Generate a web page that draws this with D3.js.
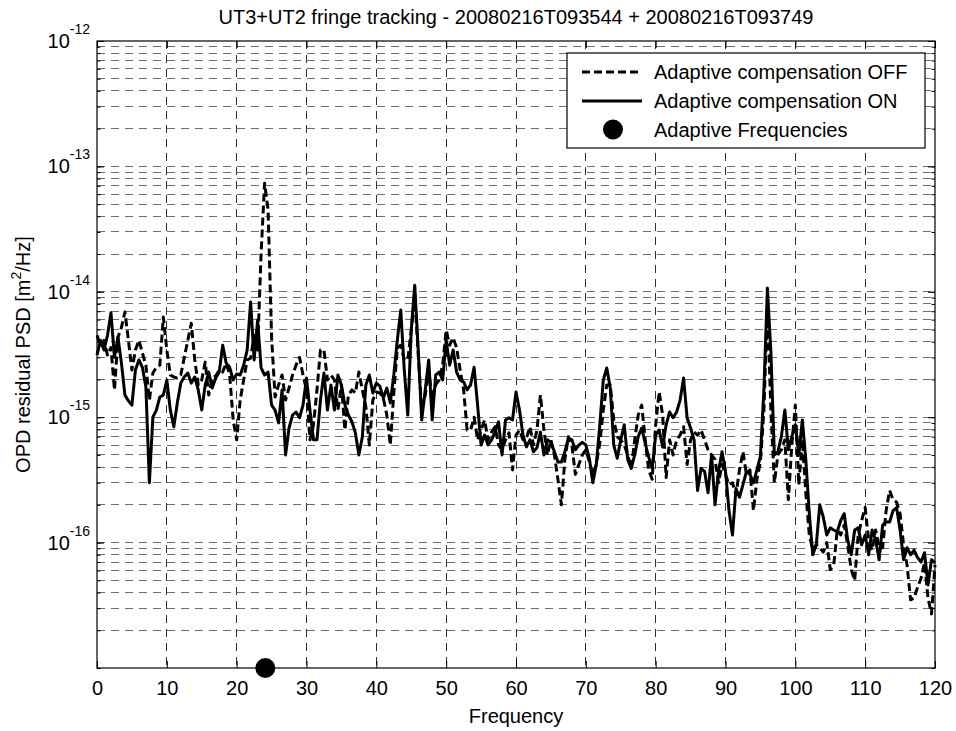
<!DOCTYPE html>
<html>
<head>
<meta charset="utf-8">
<script src="https://cdn.jsdelivr.net/npm/d3@7"></script>
<style>
  body { margin: 0; background: #fff; }
  svg text { font-family: "Liberation Sans", Arial, sans-serif; fill: #000; }
</style>
</head>
<body>
<svg id="mount" width="956" height="731"></svg>
<script>
// Frequency bins (Hz)
var freqs = [
  0, 0.5, 1, 1.5, 2, 2.5, 3, 3.5, 4, 4.5,
  5, 5.5, 6, 6.5, 7, 7.5, 8, 8.5, 9, 9.5,
  10, 10.5, 11, 11.5, 12, 12.5, 13, 13.5, 14, 14.5,
  15, 15.5, 16, 16.5, 17, 17.5, 18, 18.5, 19, 19.5,
  20, 20.5, 21, 21.5, 22, 22.5, 23, 23.5, 24, 24.5,
  25, 25.5, 26, 26.5, 27, 27.5, 28, 28.5, 29, 29.5,
  30, 30.5, 31, 31.5, 32, 32.5, 33, 33.5, 34, 34.5,
  35, 35.5, 36, 36.5, 37, 37.5, 38, 38.5, 39, 39.5,
  40, 40.5, 41, 41.5, 42, 42.5, 43, 43.5, 44, 44.5,
  45, 45.5, 46, 46.5, 47, 47.5, 48, 48.5, 49, 49.5,
  50, 50.5, 51, 51.5, 52, 52.5, 53, 53.5, 54, 54.5,
  55, 55.5, 56, 56.5, 57, 57.5, 58, 58.5, 59, 59.5,
  60, 60.5, 61, 61.5, 62, 62.5, 63, 63.5, 64, 64.5,
  65, 65.5, 66, 66.5, 67, 67.5, 68, 68.5, 69, 69.5,
  70, 70.5, 71, 71.5, 72, 72.5, 73, 73.5, 74, 74.5,
  75, 75.5, 76, 76.5, 77, 77.5, 78, 78.5, 79, 79.5,
  80, 80.5, 81, 81.5, 82, 82.5, 83, 83.5, 84, 84.5,
  85, 85.5, 86, 86.5, 87, 87.5, 88, 88.5, 89, 89.5,
  90, 90.5, 91, 91.5, 92, 92.5, 93, 93.5, 94, 94.5,
  95, 95.5, 96, 96.5, 97, 97.5, 98, 98.5, 99, 99.5,
  100, 100.5, 101, 101.5, 102, 102.5, 103, 103.5, 104, 104.5,
  105, 105.5, 106, 106.5, 107, 107.5, 108, 108.5, 109, 109.5,
  110, 110.5, 111, 111.5, 112, 112.5, 113, 113.5, 114, 114.5,
  115, 115.5, 116, 116.5, 117, 117.5, 118, 118.5, 119, 119.5,
  120
];

// Residual PSD, in units of 1e-15 m^2/Hz
var psdUnit = 1e-15;

var psdOff = [
  4.5, 3.75, 4.1, 3.13, 3.6, 1.65, 4.35, 5.2, 6.9, 4.1,
  2.38, 3.43, 4.1, 3.25, 2.6, 1.37, 2.25, 2.5, 2.6, 6.3,
  3.43, 2.17, 2.09, 2.05, 2.17, 3.0, 4.1, 5.6, 2.86, 1.81,
  1.98, 2.75, 1.5, 2.05, 2.13, 2.38, 2.29, 2.7, 2.17, 0.95,
  0.66, 1.37, 1.98, 2.86, 2.96, 4.5, 3.43, 20.3, 73.5, 44.8,
  4.35, 1.45, 1.81, 2.17, 1.37, 1.71, 2.17, 2.6, 3.0, 2.17,
  1.65, 0.66, 0.87, 1.65, 3.43, 3.43, 1.98, 2.17, 1.98, 1.14,
  1.81, 0.79, 1.5, 1.65, 1.56, 2.29, 1.65, 1.21, 0.6, 1.37,
  1.59, 1.56, 1.42, 1.04, 0.6, 1.56, 3.56, 3.75, 2.86, 2.86,
  4.95, 9.4, 3.13, 1.14, 1.5, 2.38, 1.37, 1.81, 1.98, 2.6,
  4.95, 3.75, 4.3, 3.56, 2.38, 1.65, 0.79, 0.79, 1.0, 0.66,
  0.79, 0.95, 0.66, 0.76, 0.84, 0.6, 0.55, 0.66, 0.75, 0.38,
  0.72, 0.79, 0.66, 0.68, 0.84, 0.6, 0.79, 1.5, 0.79, 0.5,
  0.66, 0.5, 0.32, 0.2, 0.46, 0.7, 0.6, 0.35, 0.42, 0.5,
  0.55, 0.44, 0.35, 0.42, 0.62, 1.14, 1.81, 1.81, 0.95, 0.7,
  0.66, 0.6, 0.5, 0.39, 0.66, 1.04, 1.25, 0.66, 0.38, 0.32,
  0.87, 1.59, 1.04, 0.33, 0.66, 0.5, 0.66, 0.72, 0.84, 0.42,
  0.66, 0.76, 0.72, 0.79, 0.66, 0.55, 0.5, 0.46, 0.3, 0.42,
  0.35, 0.29, 0.3, 0.24, 0.38, 0.53, 0.35, 0.38, 0.18, 0.32,
  0.44, 1.14, 7.8, 1.14, 0.3, 0.5, 0.55, 0.66, 0.22, 0.6,
  1.25, 0.29, 0.66, 0.25, 0.115, 0.087, 0.096, 0.091, 0.084, 0.1,
  0.061, 0.066, 0.126, 0.115, 0.138, 0.096, 0.061, 0.05, 0.115, 0.15,
  0.19, 0.105, 0.087, 0.126, 0.091, 0.091, 0.18, 0.26, 0.22, 0.21,
  0.17, 0.096, 0.066, 0.035, 0.036, 0.044, 0.052, 0.069, 0.036, 0.027,
  0.066
];

var psdOn = [
  3.13, 4.1, 3.43, 4.5, 6.8, 3.0, 4.35, 2.7, 1.5, 1.35,
  1.25, 2.38, 2.86, 2.5, 1.74, 0.3, 1.0, 1.14, 1.45, 1.5,
  1.98, 1.14, 0.84, 1.3, 1.87, 2.09, 2.25, 1.87, 2.09, 1.65,
  1.14, 1.81, 2.29, 1.71, 2.05, 2.29, 3.75, 2.7, 2.5, 1.98,
  2.21, 2.17, 2.6, 3.43, 8.3, 2.86, 5.95, 2.47, 2.17, 2.29,
  1.25, 1.14, 0.9, 1.65, 0.5, 0.82, 1.04, 1.1, 0.99, 1.25,
  2.05, 1.14, 0.66, 0.66, 1.37, 2.25, 1.14, 1.81, 1.14, 2.17,
  1.81, 1.25, 1.04, 0.92, 0.75, 0.5, 0.7, 1.81, 2.17, 1.56,
  1.87, 1.77, 1.42, 1.71, 1.3, 2.17, 4.1, 7.15, 2.38, 1.04,
  4.95, 11.3, 3.43, 0.95, 1.65, 2.86, 0.95, 2.17, 2.29, 1.98,
  4.1, 2.6, 3.43, 2.29, 1.98, 1.91, 1.65, 1.81, 2.5, 1.25,
  0.6, 0.72, 0.6, 0.66, 0.76, 0.92, 0.5, 0.95, 0.99, 0.95,
  1.59, 1.14, 0.72, 0.58, 0.66, 0.53, 0.57, 0.76, 0.5, 0.66,
  0.63, 0.53, 0.44, 0.44, 0.53, 0.68, 0.66, 0.55, 0.6, 0.63,
  0.6, 0.47, 0.3, 0.42, 0.87, 1.98, 2.47, 1.71, 0.6, 0.47,
  0.66, 0.87, 0.46, 0.39, 0.5, 0.7, 0.82, 0.62, 0.48, 0.39,
  0.72, 0.79, 0.58, 0.87, 1.1, 0.99, 1.1, 1.37, 2.05, 0.99,
  0.82, 0.66, 0.26, 0.39, 0.37, 0.25, 0.5, 0.2, 0.37, 0.53,
  0.37, 0.18, 0.115, 0.27, 0.23, 0.29, 0.37, 0.35, 0.3, 0.38,
  0.49, 1.65, 10.7, 3.3, 0.5, 0.53, 0.7, 1.14, 0.55, 0.7,
  0.87, 0.5, 0.95, 0.46, 0.17, 0.08, 0.096, 0.2, 0.16, 0.115,
  0.131, 0.126, 0.122, 0.15, 0.17, 0.105, 0.08, 0.126, 0.131, 0.096,
  0.115, 0.08, 0.126, 0.105, 0.073, 0.138, 0.146, 0.146, 0.18, 0.19,
  0.126, 0.073, 0.091, 0.08, 0.087, 0.076, 0.07, 0.083, 0.046, 0.073,
  0.069
];

// Frequencies where the adaptive compensation acts (drawn on the x axis)
var adaptiveFreqs = [24.1];

var xTicks = [0, 10, 20, 30, 40, 50, 60, 70, 80, 90, 100, 110, 120];
var yTickExponents = [-12, -13, -14, -15, -16];

var titleText = "UT3+UT2 fringe tracking - 20080216T093544 + 20080216T093749";
var xLabelText = "Frequency";
var legendLabels = [
  "Adaptive compensation OFF",
  "Adaptive compensation ON",
  "Adaptive Frequencies"
];

var gridDash = "8,6";
var offDash = "8,4";
var curveWidth = 3;

function draw() {
  var svg = d3.select("#mount");
  var margin = { top: 41, right: 21, bottom: 63, left: 97 };
  var width = 956 - margin.left - margin.right;
  var height = 731 - margin.top - margin.bottom;

  var g = svg
    .append("g")
    .attr("transform", "translate(" + margin.left + "," + margin.top + ")");

  // Data to pixel scales
  var xScale = d3.scaleLinear().domain([0, 120]).range([0, width]);
  var yScale = d3.scaleLog().domain([1e-17, 1e-12]).range([height, 0]);

  var allYTicks = yScale.ticks();
  var innerYTicks = allYTicks.filter(function(t) {
    return t > 1.0001e-17 && t < 0.9999e-12;
  });
  var majorYValues = yTickExponents.map(function(e) {
    return Math.pow(10, e);
  });

  // Grid lines
  var grid = g.append("g");
  grid
    .selectAll("line.h")
    .data(innerYTicks)
    .enter()
    .append("line")
    .attr("x1", 0)
    .attr("x2", width)
    .attr("y1", function(d) { return yScale(d); })
    .attr("y2", function(d) { return yScale(d); })
    .attr("stroke", "#6e6e6e")
    .attr("stroke-width", 1)
    .attr("stroke-dasharray", gridDash)
    .attr("shape-rendering", "crispEdges");
  grid
    .selectAll("line.v")
    .data(xTicks.slice(1, -1))
    .enter()
    .append("line")
    .attr("y1", 0)
    .attr("y2", height)
    .attr("x1", function(d) { return xScale(d); })
    .attr("x2", function(d) { return xScale(d); })
    .attr("stroke", "#333")
    .attr("stroke-width", 1)
    .attr("stroke-dasharray", gridDash)
    .attr("shape-rendering", "crispEdges");

  var line = d3
    .line()
    .x(function(d, i) { return xScale(freqs[i]); })
    .y(function(d) { return yScale(d * psdUnit); });

  // OFF curve (dashed) then ON curve (solid)
  g.append("path")
    .datum(psdOff)
    .attr("fill", "none")
    .attr("stroke", "#000")
    .attr("stroke-width", curveWidth)
    .attr("stroke-dasharray", offDash)
    .attr("stroke-linejoin", "round")
    .attr("d", line);

  g.append("path")
    .datum(psdOn)
    .attr("fill", "none")
    .attr("stroke", "#000")
    .attr("stroke-width", curveWidth)
    .attr("stroke-linejoin", "round")
    .attr("d", line);

  // Axes box
  g.append("rect")
    .attr("width", width)
    .attr("height", height)
    .attr("fill", "none")
    .attr("stroke", "#000")
    .attr("stroke-width", 1.2);

  // x axis ticks, bottom (labelled) and top
  var xAxis = g
    .append("g")
    .attr("transform", "translate(0," + height + ")")
    .call(
      d3.axisBottom(xScale)
        .tickValues(xTicks)
        .tickSizeInner(-7)
        .tickSizeOuter(0)
        .tickPadding(13)
        .tickFormat(d3.format("d"))
    );
  xAxis.select(".domain").remove();
  xAxis.selectAll("text").style("font-size", "20px");

  var xAxisTop = g
    .append("g")
    .call(d3.axisTop(xScale).tickValues(xTicks).tickSizeInner(-7).tickSizeOuter(0).tickFormat(""));
  xAxisTop.select(".domain").remove();

  // y axis ticks, minor and major, both sides
  function yTicks(axisFn, x, values, size) {
    var a = g
      .append("g")
      .attr("transform", "translate(" + x + ",0)")
      .call(axisFn(yScale).tickValues(values).tickSizeInner(-size).tickSizeOuter(0).tickFormat(""));
    a.select(".domain").remove();
  }
  yTicks(d3.axisLeft, 0, allYTicks, 3.5);
  yTicks(d3.axisLeft, 0, majorYValues, 7);
  yTicks(d3.axisRight, width, allYTicks, 3.5);
  yTicks(d3.axisRight, width, majorYValues, 7);

  // y tick labels as 10^n
  var yLabels = g
    .append("g")
    .selectAll("text")
    .data(yTickExponents)
    .enter()
    .append("text")
    .attr("x", -7)
    .attr("y", function(e) { return yScale(Math.pow(10, e)) + 7; })
    .attr("text-anchor", "end")
    .style("font-size", "20px");
  yLabels.append("tspan").text("10");
  yLabels
    .append("tspan")
    .attr("dy", -14)
    .style("font-size", "14px")
    .text(function(e) { return String(e); });

  // Adaptive frequency markers on the x axis
  g.append("g")
    .selectAll("circle")
    .data(adaptiveFreqs)
    .enter()
    .append("circle")
    .attr("cx", function(d) { return xScale(d); })
    .attr("cy", height)
    .attr("r", 10)
    .attr("fill", "#000");

  // Title and axis labels
  svg.append("text")
    .attr("x", margin.left + width / 2)
    .attr("y", 24)
    .attr("text-anchor", "middle")
    .style("font-size", "20px")
    .text(titleText);

  svg.append("text")
    .attr("x", margin.left + width / 2)
    .attr("y", 723)
    .attr("text-anchor", "middle")
    .style("font-size", "20px")
    .text(xLabelText);

  var yLabel = svg
    .append("text")
    .attr("transform", "translate(30," + (margin.top + height / 2) + ") rotate(-90)")
    .attr("text-anchor", "middle")
    .style("font-size", "20px");
  yLabel.append("tspan").text("OPD residual PSD [m");
  yLabel.append("tspan").attr("dy", -9).style("font-size", "14px").text("2");
  yLabel.append("tspan").attr("dy", 9).text("/Hz]");

  // Legend
  var legend = svg.append("g").attr("transform", "translate(567,53)");
  legend
    .append("rect")
    .attr("width", 358)
    .attr("height", 95)
    .attr("fill", "#fff")
    .attr("stroke", "#000")
    .attr("stroke-width", 1.2);

  var rowY = [19, 48, 76.5];
  legend
    .append("line")
    .attr("x1", 15).attr("x2", 75)
    .attr("y1", rowY[0]).attr("y2", rowY[0])
    .attr("stroke", "#000")
    .attr("stroke-width", curveWidth)
    .attr("stroke-dasharray", offDash);
  legend
    .append("line")
    .attr("x1", 15).attr("x2", 75)
    .attr("y1", rowY[1]).attr("y2", rowY[1])
    .attr("stroke", "#000")
    .attr("stroke-width", curveWidth);
  legend
    .append("circle")
    .attr("cx", 46)
    .attr("cy", rowY[2])
    .attr("r", 10)
    .attr("fill", "#000");

  legend
    .selectAll("text")
    .data(legendLabels)
    .enter()
    .append("text")
    .attr("x", 87)
    .attr("y", function(d, i) { return rowY[i] + 7; })
    .style("font-size", "20px")
    .text(function(d) { return d; });
}

draw();
</script>
</body>
</html>
